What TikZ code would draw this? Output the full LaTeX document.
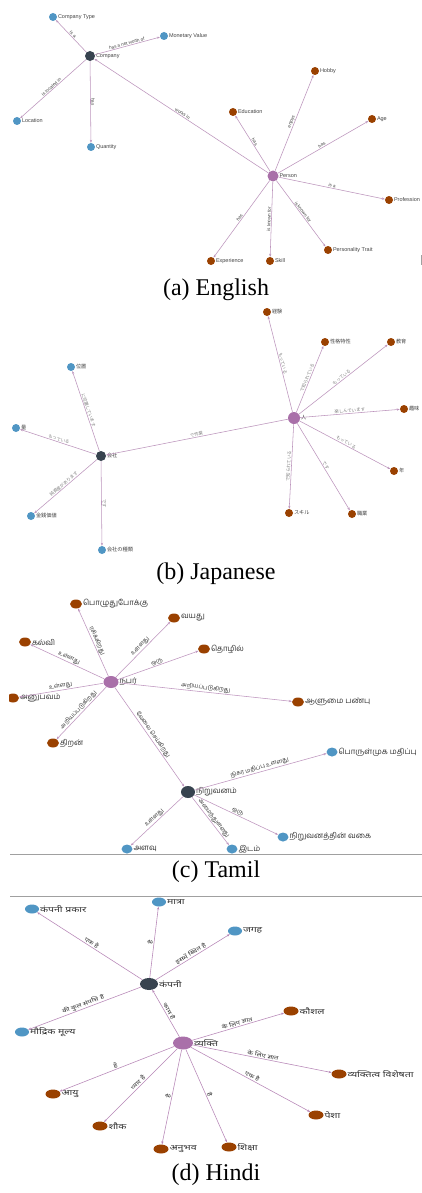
\documentclass[tikz,border=0pt]{standalone}
\usepackage{fontspec}
\setmainfont{Liberation Serif}
\newfontfamily\enfont{Liberation Sans}
\newfontfamily\jpfont{Noto Sans CJK JP}
\newfontfamily\tafont[Script=Tamil]{Hind Madurai}
\newfontfamily\hifont[Script=Devanagari, FakeStretch=1.35]{Noto Sans}
\usetikzlibrary{arrows.meta,shapes.geometric}
\definecolor{cdark}{HTML}{37434F}
\definecolor{cblue}{HTML}{5096C4}
\definecolor{cbrown}{HTML}{9A4100}
\definecolor{cpurple}{HTML}{A970A9}
\definecolor{cedge}{HTML}{BC94BC}
\definecolor{cline}{HTML}{A0A0A0}
\definecolor{ctxt}{HTML}{444444}
\tikzset{
  nd/.style={circle, inner sep=0pt, draw=none},
  bn/.style={nd, fill=cblue, minimum size=8pt},
  rn/.style={nd, fill=cbrown, minimum size=8pt},
  dn/.style={nd, fill=cdark, minimum size=10pt},
  pn/.style={nd, fill=cpurple, minimum size=11pt},
  nlab/.style={inner sep=0.6pt, text=ctxt},
  lr/.style={label={[nlab]right:#1}},
  ed/.style={draw=cedge, line width=0.55pt, -{Stealth[length=3pt,width=2.2pt]}},
  elab/.style={sloped, above=0pt, inner sep=0.6pt, text=ctxt},
  captxt/.style={font=\fontsize{24}{28}\selectfont, text=black},
  sepline/.style={draw=cline, line width=0.8pt},
}
\begin{document}
\begin{tikzpicture}[x=1pt,y=-1pt]
\useasboundingbox (0,0) rectangle (422,1193);
\fill[white] (0,0) rectangle (422,1193);

% ---------------- (a) English ----------------
\begin{scope}[nlab/.append style={font=\enfont\fontsize{5.5}{6}\selectfont},
              elab/.append style={font=\enfont\fontsize{4.6}{5}\selectfont}]
\node[dn, lr=Company] (ac) at (90,56) {};
\node[bn, lr=Company Type] (act) at (53,17) {};
\node[bn, lr=Monetary Value] (amv) at (164,36) {};
\node[bn, lr=Location] (aloc) at (17,121) {};
\node[bn, lr=Quantity] (aq) at (91,147) {};
\node[pn, lr=Person] (ap) at (273,176) {};
\node[rn, lr=Hobby] (ah) at (315,71) {};
\node[rn, lr=Education] (aed) at (233,112) {};
\node[rn, lr=Age] (aage) at (372,119) {};
\node[rn, lr=Profession] (apr) at (389,200) {};
\node[rn, lr=Personality Trait] (apt) at (328,250) {};
\node[rn, lr=Experience] (aex) at (211,261) {};
\node[rn, lr=Skill] (ask) at (270,261) {};
\draw[ed] (ac) -- node[elab]{is a} (act);
\draw[ed] (ac) -- node[elab]{has a net worth of} (amv);
\draw[ed] (ac) -- node[elab]{is located in} (aloc);
\draw[ed] (ac) -- node[elab]{has} (aq);
\draw[ed] (ap) -- node[elab]{works in} (ac);
\draw[ed] (ap) -- node[elab]{enjoys} (ah);
\draw[ed] (ap) -- node[elab]{has} (aed);
\draw[ed] (ap) -- node[elab]{has} (aage);
\draw[ed] (ap) -- node[elab]{is a} (apr);
\draw[ed] (ap) -- node[elab]{is known for} (apt);
\draw[ed] (ap) -- node[elab]{is known for} (ask);
\draw[ed] (ap) -- node[elab]{has} (aex);
\end{scope}
\draw[cline, line width=0.5pt] (421.5,255) -- (421.5,265);
\node[captxt] (capa) at (216,290) {(a) English};

% ---------------- (b) Japanese ----------------
\begin{scope}[nlab/.append style={font=\jpfont\fontsize{5.2}{6}\selectfont},
              elab/.append style={font=\jpfont\fontsize{4.4}{5}\selectfont, text=gray}]
\node[dn, lr=会社] (bc) at (101,456) {};
\node[bn, lr=位置] (bloc) at (71,367) {};
\node[bn, lr=量] (bq) at (16,428) {};
\node[bn, lr=金銭価値] (bmv) at (31,516) {};
\node[bn, lr=会社の種類] (bct) at (102,550) {};
\node[pn, minimum size=12pt, lr=人] (bp) at (294,418) {};
\node[rn, lr=経験] (bex) at (267,312) {};
\node[rn, lr=性格特性] (bpt) at (325,342) {};
\node[rn, lr=教育] (bed) at (391,342) {};
\node[rn, lr=趣味] (bh) at (404,409) {};
\node[rn, lr=年] (bage) at (394,471) {};
\node[rn, lr=スキル] (bsk) at (289,513) {};
\node[rn, lr=職業] (bpr) at (352,514) {};
\draw[ed] (bc) -- node[elab]{に位置しています} (bloc);
\draw[ed] (bc) -- node[elab]{もっている} (bq);
\draw[ed] (bc) -- node[elab]{純資産があります} (bmv);
\draw[ed] (bc) -- node[elab]{です} (bct);
\draw[ed] (bp) -- node[elab]{で作業} (bc);
\draw[ed] (bp) -- node[elab]{もっている} (bex);
\draw[ed] (bp) -- node[elab]{で知られている} (bpt);
\draw[ed] (bp) -- node[elab]{もっている} (bed);
\draw[ed] (bp) -- node[elab]{楽しんでいます} (bh);
\draw[ed] (bp) -- node[elab]{もっている} (bage);
\draw[ed] (bp) -- node[elab]{です} (bpr);
\draw[ed] (bp) -- node[elab]{で知られている} (bsk);
\end{scope}
\node[captxt] (capb) at (216,574) {(b) Japanese};

% ---------------- (c) Tamil ----------------
\begin{scope}
\clip (9,592) rectangle (422,854);
\begin{scope}[nlab/.append style={font=\tafont\fontsize{7.8}{9}\selectfont, text=black!80},
              elab/.append style={font=\tafont\fontsize{5.8}{6}\selectfont, text=black!80},
              bn/.append style={shape=ellipse, minimum width=11pt, minimum height=9pt},
              rn/.append style={shape=ellipse, minimum width=12pt, minimum height=9pt},
              ed/.append style={draw=cpurple!75}]
\node[pn, shape=ellipse, minimum width=15pt, minimum height=12pt, lr=நபர்] (tp) at (111,682) {};
\node[rn, lr=பொழுதுபோக்கு] (th) at (76,604) {};
\node[rn, lr=வயது] (tage) at (174,618) {};
\node[rn, lr=கல்வி] (ted) at (25,642) {};
\node[rn, lr=தொழில்] (tpr) at (204,649) {};
\node[rn, lr=அனுபவம்] (tex) at (13,698) {};
\node[rn, lr=ஆளுமை பண்பு] (tpt) at (298,702) {};
\node[rn, lr=திறன்] (tsk) at (53,743) {};
\node[dn, shape=ellipse, minimum width=14pt, minimum height=12pt, lr=நிறுவனம்] (tc) at (188,792) {};
\node[bn, lr=பொருள்முக மதிப்பு] (tmv) at (332,752) {};
\node[bn, lr=நிறுவனத்தின் வகை] (tct) at (283,837) {};
\node[bn, lr=அளவு] (tq) at (127,849) {};
\node[bn, lr=இடம்] (tloc) at (232,849) {};
\draw[ed] (tp) -- node[elab]{ரசிக்கிறது} (th);
\draw[ed] (tp) -- node[elab]{உள்ளது} (tage);
\draw[ed] (tp) -- node[elab]{உள்ளது} (ted);
\draw[ed] (tp) -- node[elab]{ஒரு} (tpr);
\draw[ed] (tp) -- node[elab]{உள்ளது} (tex);
\draw[ed] (tp) -- node[elab]{அறியப்படுகிறது} (tpt);
\draw[ed] (tp) -- node[elab]{அறியப்படுகிறது} (tsk);
\draw[ed] (tp) -- node[elab]{வேலை செய்கிறது} (tc);
\draw[ed] (tc) -- node[elab]{நிகர மதிப்பு உள்ளது} (tmv);
\draw[ed] (tc) -- node[elab]{ஒரு} (tct);
\draw[ed] (tc) -- node[elab]{உள்ளது} (tq);
\draw[ed] (tc) -- node[elab]{அமைந்துள்ளது} (tloc);
\end{scope}
\end{scope}
\draw[sepline] (10,854) -- (422,854);
\node[captxt] (capc) at (216,872) {(c) Tamil};

% ---------------- (d) Hindi ----------------
\draw[sepline] (10,896) -- (422,896);
\begin{scope}[nlab/.append style={font=\hifont\fontsize{7.8}{9}\selectfont, text=black!80},
              elab/.append style={font=\hifont\fontsize{5.5}{6}\selectfont, text=black!80},
              bn/.append style={shape=ellipse, minimum width=14pt, minimum height=9pt},
              rn/.append style={shape=ellipse, minimum width=15pt, minimum height=9pt},
              ed/.append style={draw=cpurple!85}]
\node[dn, shape=ellipse, minimum width=18pt, minimum height=12pt, lr=कंपनी] (hc) at (149,984) {};
\node[bn, lr=कंपनी प्रकार] (hct) at (32,909) {};
\node[bn, lr=मात्रा] (hq) at (159,902) {};
\node[bn, lr=जगह] (hloc) at (235,931) {};
\node[bn, lr=मौद्रिक मूल्य] (hmv) at (22,1032) {};
\node[pn, shape=ellipse, minimum width=20pt, minimum height=13pt, lr=व्यक्ति] (hp) at (183,1043) {};
\node[rn, lr=कौशल] (hsk) at (291,1011) {};
\node[rn, lr=व्यक्तित्व विशेषता] (hpt) at (339,1074) {};
\node[rn, lr=आयु] (hage) at (53,1094) {};
\node[rn, lr=पेशा] (hpr) at (316,1115) {};
\node[rn, lr=शौक] (hh) at (100,1126) {};
\node[rn, lr=शिक्षा] (hed) at (229,1147) {};
\node[rn, lr=अनुभव] (hex) at (161,1149) {};
\draw[ed] (hc) -- node[elab]{एक है} (hct);
\draw[ed] (hc) -- node[elab]{है} (hq);
\draw[ed] (hc) -- node[elab]{इसमें स्थित है} (hloc);
\draw[ed] (hc) -- node[elab]{की कुल संपत्ति है} (hmv);
\draw[ed] (hp) -- node[elab]{काम है} (hc);
\draw[ed] (hp) -- node[elab]{के लिए ज्ञात} (hsk);
\draw[ed] (hp) -- node[elab]{के लिए ज्ञात} (hpt);
\draw[ed] (hp) -- node[elab]{है} (hage);
\draw[ed] (hp) -- node[elab]{एक है} (hpr);
\draw[ed] (hp) -- node[elab]{प्यार है} (hh);
\draw[ed] (hp) -- node[elab]{है} (hed);
\draw[ed] (hp) -- node[elab]{है} (hex);
\end{scope}
\node[captxt] (capd) at (216,1175) {(d) Hindi};
\end{tikzpicture}
\end{document}
